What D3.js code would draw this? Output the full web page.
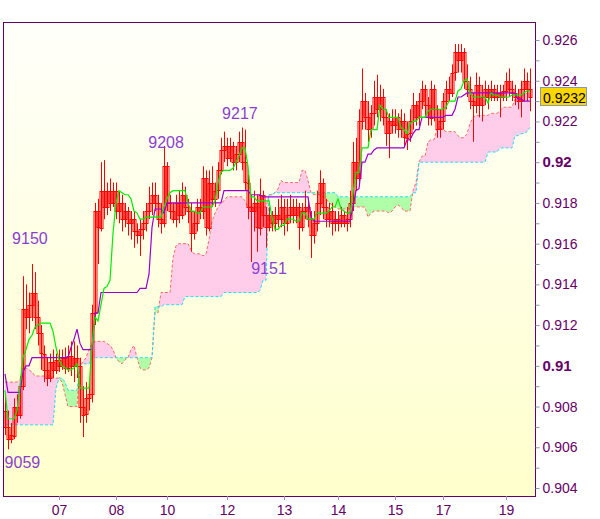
<!DOCTYPE html>
<html><head><meta charset="utf-8">
<script src="https://cdn.jsdelivr.net/npm/d3@7"></script>
<style>body{margin:0;background:#fff}svg{display:block}</style>
</head><body><svg id="c" width="600" height="519"></svg>
<script>
// Prices in 1/10000 units (e.g. 9232 = 0.9232); 10 candles per row, 176 candles
const opens = [
9078,9070,9064,9066,9080,9076,9090,9128,9124,9130,
9136,9124,9116,9106,9098,9094,9102,9098,9103,9100,
9104,9099,9105,9100,9104,9100,9080,9076,9084,9086,
9126,9176,9168,9186,9178,9186,9180,9186,9176,9180,
9172,9176,9170,9172,9166,9164,9167,9170,9176,9180,
9184,9180,9172,9170,9198,9180,9176,9172,9180,9174,
9184,9178,9176,9165,9170,9178,9176,9192,9168,9190,
9182,9186,9196,9206,9208,9202,9208,9200,9204,9210,
9200,9190,9178,9176,9180,9168,9184,9174,9168,9174,
9170,9174,9172,9178,9170,9174,9178,9174,9178,9168,
9176,9178,9172,9164,9170,9180,9190,9178,9172,9176,
9170,9172,9170,9174,9170,9172,9180,9200,9192,9220,
9230,9222,9216,9224,9232,9226,9232,9222,9214,9220,
9218,9222,9216,9220,9212,9214,9220,9228,9222,9230,
9236,9228,9222,9236,9226,9216,9220,9230,9236,9234,
9244,9254,9250,9254,9240,9236,9230,9228,9238,9228,
9232,9236,9232,9236,9232,9234,9232,9235,9240,9236,
9234,9232,9230,9236,9240,9236];
const highs = [
9085,9078,9072,9084,9086,9095,9144,9140,9136,9150,
9146,9132,9120,9110,9104,9106,9108,9106,9108,9108,
9109,9110,9112,9112,9110,9104,9090,9092,9092,9130,
9180,9182,9200,9201,9190,9192,9190,9190,9186,9184,
9180,9178,9176,9176,9170,9172,9176,9180,9188,9190,
9190,9184,9180,9208,9200,9184,9180,9184,9186,9190,
9188,9182,9180,9176,9182,9182,9198,9196,9196,9198,
9190,9200,9212,9215,9212,9212,9210,9208,9215,9217,
9216,9194,9184,9186,9184,9192,9186,9178,9178,9176,
9178,9182,9184,9182,9182,9184,9182,9182,9180,9180,
9186,9182,9176,9176,9186,9196,9192,9182,9180,9180,
9176,9176,9178,9176,9178,9186,9210,9212,9226,9246,
9234,9230,9228,9240,9243,9238,9236,9226,9224,9226,
9226,9224,9226,9224,9220,9226,9234,9230,9234,9240,
9238,9232,9240,9238,9228,9226,9234,9240,9242,9248,
9258,9258,9258,9256,9248,9242,9234,9244,9242,9238,
9240,9238,9240,9238,9238,9238,9238,9244,9246,9240,
9238,9236,9240,9246,9244,9246];
const lows = [
9066,9059,9062,9064,9072,9074,9088,9118,9116,9122,
9118,9110,9098,9092,9090,9092,9094,9096,9097,9098,
9096,9097,9095,9092,9094,9072,9065,9072,9078,9082,
9120,9150,9166,9172,9174,9176,9178,9172,9170,9166,
9168,9164,9162,9158,9160,9154,9162,9166,9172,9174,
9176,9168,9165,9168,9176,9172,9170,9168,9170,9172,
9174,9170,9156,9162,9166,9172,9172,9164,9166,9178,
9178,9182,9194,9200,9198,9200,9196,9196,9200,9196,
9186,9172,9151,9166,9156,9164,9168,9158,9166,9166,
9166,9168,9168,9164,9166,9170,9170,9170,9157,9166,
9172,9168,9153,9160,9166,9174,9172,9168,9168,9164,
9166,9166,9168,9168,9166,9168,9176,9186,9190,9216,
9216,9210,9212,9218,9222,9220,9218,9208,9202,9214,
9214,9212,9212,9208,9206,9210,9216,9218,9218,9226,
9222,9218,9218,9220,9212,9212,9216,9226,9230,9232,
9240,9244,9244,9236,9232,9226,9210,9224,9222,9220,
9228,9226,9230,9230,9230,9222,9230,9230,9232,9230,
9228,9226,9222,9230,9230,9225];
const closes = [
9070,9064,9066,9080,9076,9090,9128,9124,9130,9136,
9124,9116,9106,9098,9094,9102,9098,9103,9100,9104,
9099,9105,9100,9104,9100,9080,9076,9084,9086,9126,
9176,9168,9186,9178,9186,9180,9186,9176,9180,9172,
9176,9170,9172,9166,9164,9167,9170,9176,9180,9184,
9180,9172,9170,9198,9180,9176,9172,9180,9174,9184,
9178,9176,9165,9170,9178,9176,9192,9168,9190,9182,
9186,9196,9206,9208,9202,9208,9200,9204,9210,9200,
9190,9178,9176,9180,9168,9184,9174,9168,9174,9170,
9174,9172,9178,9170,9174,9178,9174,9178,9168,9176,
9178,9172,9164,9170,9180,9190,9178,9172,9176,9170,
9172,9170,9174,9170,9172,9180,9200,9192,9220,9230,
9222,9216,9224,9232,9226,9232,9222,9214,9220,9218,
9222,9216,9220,9212,9214,9220,9228,9222,9230,9236,
9228,9222,9236,9226,9216,9220,9230,9236,9234,9244,
9254,9250,9254,9240,9236,9230,9228,9238,9228,9232,
9236,9232,9236,9232,9234,9232,9235,9240,9236,9234,
9232,9230,9236,9240,9236,9232];
// Ichimoku lines (same units)
const tenkan = [
9088,9074,9074,9074,9078,9090,9104,9108,9113,9115,
9119,9120,9121,9121,9121,9121,9117,9109,9103,9100,
9099,9098,9098,9099,9101,9089,9089,9089,9089,9110,
9124,9122,9130,9138,9139,9142,9165,9180,9186,9185,
9184,9184,9182,9176,9175,9172,9172,9173,9173,9173,
9173,9173,9173,9178,9182,9185,9186,9186,9186,9186,
9186,9180,9176,9176,9175,9175,9178,9178,9178,9178,
9181,9190,9195,9196,9196,9196,9197,9200,9203,9207,
9207,9198,9183,9183,9181,9181,9181,9181,9181,9173,
9167,9167,9169,9169,9172,9172,9172,9171,9171,9175,
9175,9172,9172,9172,9175,9175,9175,9175,9176,9178,
9178,9182,9177,9176,9175,9175,9185,9195,9195,9207,
9207,9207,9216,9216,9216,9228,9226,9226,9222,9222,
9222,9222,9217,9216,9214,9219,9220,9220,9222,9222,
9222,9225,9226,9226,9226,9226,9226,9227,9230,9230,
9230,9235,9236,9240,9241,9234,9232,9232,9232,9232,
9232,9229,9234,9233,9233,9232,9232,9232,9232,9233,
9233,9233,9233,9234,9235,9235];
const kijun = [
9096,9087,9087,9087,9087,9087,9097,9100,9100,9104,
9104,9104,9104,9104,9104,9104,9104,9104,9104,9104,
9104,9104,9109,9113,9118,9111,9108,9108,9108,9108,
9126,9126,9136,9136,9136,9136,9136,9136,9136,9136,
9136,9136,9136,9136,9136,9138,9138,9138,9145,9168,
9177,9177,9177,9175,9180,9180,9180,9180,9180,9180,
9180,9180,9180,9180,9180,9180,9180,9180,9180,9180,
9180,9180,9180,9186,9186,9186,9186,9186,9186,9186,
9186,9186,9184,9184,9184,9184,9183,9183,9183,9183,
9183,9183,9183,9183,9183,9183,9183,9183,9183,9183,
9183,9183,9173,9171,9171,9171,9171,9171,9171,9171,
9171,9171,9171,9171,9171,9171,9178,9186,9187,9200,
9200,9204,9204,9206,9207,9207,9207,9207,9207,9207,
9207,9207,9207,9207,9211,9211,9214,9216,9216,9222,
9222,9222,9222,9222,9222,9222,9222,9223,9223,9223,
9226,9232,9232,9233,9234,9234,9234,9234,9234,9234,
9234,9234,9234,9234,9234,9234,9234,9234,9234,9234,
9234,9231,9231,9230,9230,9230];
const spanA = [
9092,9092,9092,9092,9092,9093,9099,9099,9098,9097,
9095,9095,9095,9095,9095,9095,9094,9094,9094,9092,
9086,9080,9080,9080,9080,9100,9102,9104,9108,9111,
9112,9112,9112,9112,9111,9110,9108,9104,9102,9101,
9103,9104,9108,9110,9104,9099,9098,9098,9099,9104,
9126,9126,9136,9136,9136,9136,9153,9159,9160,9160,
9160,9160,9157,9155,9155,9155,9154,9155,9162,9171,
9175,9178,9180,9181,9183,9183,9183,9183,9183,9183,
9181,9178,9178,9178,9178,9178,9178,9178,9184,9184,
9185,9187,9191,9190,9190,9190,9190,9190,9190,9196,
9196,9191,9185,9184,9184,9184,9183,9182,9180,9179,
9178,9177,9177,9177,9177,9177,9178,9178,9178,9178,
9178,9173,9175,9176,9176,9176,9176,9176,9175,9176,
9178,9179,9178,9176,9176,9176,9186,9190,9200,9203,
9203,9210,9211,9211,9216,9217,9216,9215,9215,9215,
9215,9213,9212,9212,9214,9219,9222,9223,9223,9223,
9223,9223,9224,9224,9224,9225,9227,9227,9227,9227,
9231,9231,9233,9233,9234,9234];
const spanB = [
9071,9071,9071,9071,9071,9071,9071,9071,9071,9071,
9071,9071,9071,9071,9071,9071,9071,9089,9094,9094,
9092,9088,9088,9088,9088,9100,9101,9101,9101,9104,
9104,9104,9104,9104,9104,9104,9104,9104,9104,9104,
9104,9104,9104,9104,9104,9104,9104,9104,9104,9104,
9129,9129,9129,9130,9130,9130,9130,9130,9130,9130,
9134,9134,9134,9134,9134,9134,9134,9134,9134,9134,
9134,9134,9134,9136,9136,9136,9136,9136,9136,9136,
9136,9136,9136,9136,9136,9137,9142,9142,9184,9184,
9185,9185,9185,9185,9185,9185,9185,9185,9185,9185,
9185,9185,9185,9185,9185,9185,9185,9185,9185,9185,
9185,9183,9183,9183,9183,9183,9183,9183,9183,9183,
9183,9183,9183,9183,9183,9183,9183,9183,9183,9183,
9183,9183,9183,9183,9183,9183,9185,9185,9200,9200,
9200,9200,9200,9200,9200,9200,9200,9200,9200,9200,
9200,9200,9200,9200,9200,9200,9200,9200,9200,9200,
9200,9205,9205,9205,9205,9207,9207,9207,9207,9207,
9213,9213,9214,9214,9215,9217];
// Axis ticks
const xTickIndex = [18,37,54,74,93,111,130,146,167];
const xTickLabels = ["07","08","10","12","13","14","15","17","19"];
const yTickValues = [0.904,0.906,0.908,0.91,0.912,0.914,0.916,0.918,0.92,0.922,0.924,0.926];
const yTickLabels = ["0.904","0.906","0.908","0.91","0.912","0.914","0.916","0.918","0.92","0.922","0.924","0.926"];
const yMinorValues = [0.905,0.907,0.909,0.911,0.913,0.915,0.917,0.919,0.921,0.923,0.925];
const yBoldLabels = ["0.91","0.92"];
// Extreme annotations (text, candle index anchor, price anchor)
const annText = ["9150","9208","9217","9151","9059"];
const annIndex = [8.3,53.7,78.3,88,5.8];
const annPrice = [0.9160,0.9207,0.9221,0.9145,0.9050];

const N = closes.length;
const svg = d3.select("#c");
const L = 3.5, R = 535.5, T = 22.5, B = 496.5;
const x = d3.scaleLinear().domain([0, N - 1]).range([5, 530]);
const y = d3.scaleLinear().domain([0.904, 0.926]).range([488, 40]);
const P = v => y(v / 10000);
const font = "'Liberation Sans', Arial, sans-serif";

const defs = svg.append("defs");
const grad = defs.append("linearGradient").attr("id", "bg").attr("x1", 0).attr("y1", 0).attr("x2", 0).attr("y2", 1);
grad.append("stop").attr("offset", "0%").attr("stop-color", "#fffffa");
grad.append("stop").attr("offset", "100%").attr("stop-color", "#ffffcc");
defs.append("clipPath").attr("id", "plot").append("rect").attr("x", L).attr("y", T).attr("width", R - L).attr("height", B - T);

svg.append("rect").attr("x", L).attr("y", T).attr("width", R - L).attr("height", B - T).attr("fill", "url(#bg)");
const g = svg.append("g").attr("clip-path", "url(#plot)");
const idx = d3.range(N);

// cloud polygons: split into runs where spanA>=spanB (pink) or spanA<spanB (green)
const runs = [];
let cur = null;
idx.forEach(i => {
  const d = spanA[i] - spanB[i];
  const pa = [x(i), P(spanA[i])], pb = [x(i), P(spanB[i])];
  if (!cur) { cur = { s: d >= 0 ? 1 : -1, top: [pa], bot: [pb] }; return; }
  const s = d > 0 ? 1 : d < 0 ? -1 : cur.s;
  if (s !== cur.s) {
    const dp = spanA[i - 1] - spanB[i - 1];
    const t = dp / (dp - d);
    const xc = x(i - 1) + t * (x(i) - x(i - 1));
    const vc = spanA[i - 1] + t * (spanA[i] - spanA[i - 1]);
    const pc = [xc, P(vc)];
    cur.top.push(pc); cur.bot.push(pc); runs.push(cur);
    cur = { s, top: [pc], bot: [pc] };
  }
  cur.top.push(pa); cur.bot.push(pb);
});
runs.push(cur);
g.append("g").selectAll("path").data(runs).join("path")
  .attr("d", r => d3.line()(r.top.concat(r.bot.slice().reverse())) + "Z")
  .attr("fill", r => r.s > 0 ? "#ffccea" : "#b0ffa8");

const lineOf = arr => d3.line().x(i => x(i)).y(i => P(arr[i]))(idx);
g.append("path").attr("d", lineOf(spanA)).attr("fill", "none").attr("stroke", "#ff6a6a").attr("stroke-width", 1).attr("stroke-dasharray", "3,2");
g.append("path").attr("d", lineOf(spanB)).attr("fill", "none").attr("stroke", "#22ddf8").attr("stroke-width", 1).attr("stroke-dasharray", "3,2");

// candles
const cg = g.append("g");
idx.forEach(i => {
  const cx = x(i) + 0.5;
  cg.append("line").attr("x1", cx).attr("x2", cx).attr("y1", P(highs[i])).attr("y2", P(lows[i]))
    .attr("stroke", "#ff0000").attr("stroke-width", 1);
  const top = Math.min(P(opens[i]), P(closes[i])), bot = Math.max(P(opens[i]), P(closes[i]));
  cg.append("rect").attr("x", cx - 1.5).attr("y", Math.round(top) + 0.5).attr("width", 3)
    .attr("height", Math.max(1, Math.round(bot - top))).attr("fill", "none").attr("stroke", "#ff0000").attr("stroke-width", 1);
});

// tenkan / kijun
g.append("path").attr("d", lineOf(kijun)).attr("fill", "none").attr("stroke", "#9a00d0").attr("stroke-width", 1.2);
g.append("path").attr("d", lineOf(tenkan)).attr("fill", "none").attr("stroke", "#00ee00").attr("stroke-width", 1.2);

// annotations
svg.append("g").selectAll("text").data(annText).join("text")
  .attr("x", (d, k) => x(annIndex[k])).attr("y", (d, k) => y(annPrice[k]))
  .attr("text-anchor", "middle").attr("font-family", font).attr("font-size", 16)
  .attr("fill", "#8a3fd0").text(d => d);

// frame
svg.append("rect").attr("x", L).attr("y", T).attr("width", R - L).attr("height", B - T)
  .attr("fill", "none").attr("stroke", "#660066").attr("stroke-width", 1);

// y axis
const yAxis = d3.axisRight(y).tickValues(yTickValues).tickSize(4).tickPadding(3)
  .tickFormat((d, k) => yTickLabels[k]);
const ya = svg.append("g").attr("transform", `translate(${R},0)`).call(yAxis);
ya.select(".domain").remove();
ya.selectAll(".tick line").attr("stroke", "#8899aa");
ya.selectAll(".tick text").attr("font-family", font).attr("fill", "#660066")
  .attr("font-weight", function() { return yBoldLabels.includes(this.textContent) ? "bold" : "normal"; })
  .attr("font-size", function() { return yBoldLabels.includes(this.textContent) ? 15 : 14; });
const yMinor = d3.axisRight(y).tickValues(yMinorValues).tickSize(4).tickFormat("");
const ym = svg.append("g").attr("transform", `translate(${R},0)`).call(yMinor);
ym.select(".domain").remove();
ym.selectAll(".tick line").attr("stroke", "#8899aa");

// x axis
const xAxis = d3.axisBottom(x).tickValues(xTickIndex).tickSize(4).tickPadding(5)
  .tickFormat((d, k) => xTickLabels[k]);
const xa = svg.append("g").attr("transform", `translate(0,${B - 0.5})`).call(xAxis);
xa.select(".domain").remove();
xa.selectAll(".tick line").attr("stroke", "#8899aa");
xa.selectAll(".tick text").attr("font-family", font).attr("font-size", 14).attr("fill", "#660066");

// current price tag
const last = closes[N - 1] / 10000;
const ly = Math.round(y(last));
svg.append("rect").attr("x", 540.5).attr("y", ly - 9.5).attr("width", 46).attr("height", 18)
  .attr("fill", "#ffd700").attr("stroke", "#8899aa").attr("stroke-width", 1);
svg.append("text").attr("x", 543).attr("y", ly + 5.5).attr("font-family", font).attr("font-size", 14)
  .attr("fill", "#000").text(d3.format(".4f")(last));
</script></body></html>
